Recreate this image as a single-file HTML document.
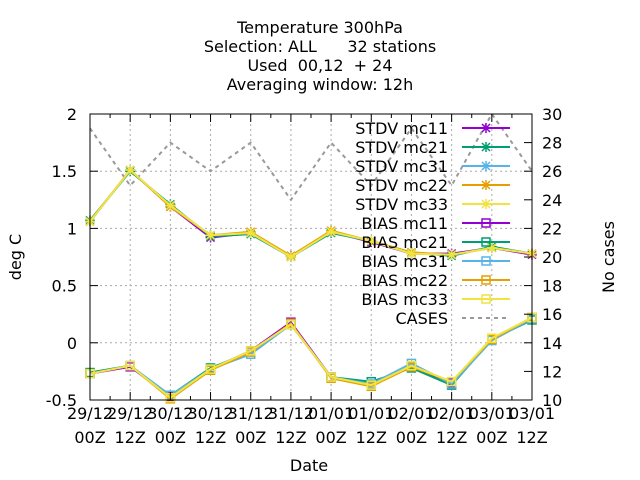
<!DOCTYPE html>
<html><head><meta charset="utf-8"><style>
body{margin:0;background:#fff}
svg{display:block;font-family:"DejaVu Sans","Liberation Sans",sans-serif}
</style></head><body>
<svg id="c" width="640" height="480" xmlns="http://www.w3.org/2000/svg">
<g font-size="16" text-anchor="middle" fill="#000">
<text x="320" y="33">Temperature 300hPa</text>
<text x="320" y="52" xml:space="preserve">Selection: ALL      32 stations</text>
<text x="320" y="71" xml:space="preserve">Used  00,12  + 24</text>
<text x="320" y="90">Averaging window: 12h</text>
</g>
<text x="309" y="471" font-size="16" text-anchor="middle">Date</text>
<text transform="translate(21,257) rotate(-90)" font-size="16" text-anchor="middle">deg C</text>
<text transform="translate(614,257) rotate(-90)" font-size="16" text-anchor="middle">No cases</text>
<g id="grid"></g><g id="series"></g><g id="axes"></g><g id="legend"></g>
</svg>
<script>
const categories=["29/12|00Z","29/12|12Z","30/12|00Z","30/12|12Z","31/12|00Z","31/12|12Z","01/01|00Z","01/01|12Z","02/01|00Z","02/01|12Z","03/01|00Z","03/01|12Z"];
const yTicks=[-0.5,0,0.5,1,1.5,2];
const yTickLabels=["-0.5","0","0.5","1","1.5","2"];
const y2Ticks=[10,12,14,16,18,20,22,24,26,28,30];
const seriesNames=["mc11","mc21","mc31","mc22","mc33"];
const colors=["#9400d3","#009e73","#56b4e9","#e69f00","#f0e442"];
const stdvMc11=[1.06,1.51,1.19,0.92,0.96,0.76,0.97,0.88,0.78,0.78,0.83,0.77];
const stdvMc21=[1.07,1.50,1.21,0.93,0.95,0.75,0.96,0.89,0.79,0.76,0.84,0.78];
const stdvMc31=[1.06,1.51,1.20,0.94,0.96,0.75,0.97,0.89,0.78,0.77,0.83,0.78];
const stdvMc22=[1.06,1.51,1.19,0.94,0.97,0.76,0.98,0.89,0.79,0.77,0.83,0.78];
const stdvMc33=[1.06,1.51,1.20,0.94,0.96,0.75,0.97,0.89,0.78,0.77,0.83,0.78];
const biasMc11=[-0.27,-0.21,-0.47,-0.23,-0.07,0.18,-0.30,-0.37,-0.21,-0.35,0.03,0.22];
const biasMc21=[-0.26,-0.20,-0.46,-0.22,-0.08,0.16,-0.30,-0.34,-0.22,-0.37,0.03,0.20];
const biasMc31=[-0.27,-0.20,-0.46,-0.23,-0.10,0.16,-0.30,-0.36,-0.18,-0.36,0.02,0.21];
const biasMc22=[-0.27,-0.20,-0.49,-0.24,-0.08,0.17,-0.31,-0.38,-0.21,-0.34,0.03,0.22];
const biasMc33=[-0.27,-0.20,-0.48,-0.23,-0.07,0.16,-0.30,-0.37,-0.20,-0.34,0.04,0.22];
const cases=[29,25,28,26,28,24,28,25,29,25,30,26];
const stdv=[stdvMc11,stdvMc21,stdvMc31,stdvMc22,stdvMc33];
const bias=[biasMc11,biasMc21,biasMc31,biasMc22,biasMc33];

const NS="http://www.w3.org/2000/svg";
const L=90,R=532,T=114,B=400;
const xS=i=>L+i*(R-L)/(categories.length-1);
const yS=v=>B-(v+0.5)/2.5*(B-T);
const y2S=v=>B-(v-10)/20*(B-T);
function mk(tag,attrs,parent){const e=document.createElementNS(NS,tag);for(const k in attrs)e.setAttribute(k,attrs[k]);parent.appendChild(e);return e;}
const grid=document.getElementById('grid'),axes=document.getElementById('axes'),ser=document.getElementById('series'),leg=document.getElementById('legend');
yTicks.forEach((t,i)=>{const y=yS(t);
 if(i>0&&i<yTicks.length-1){const g=mk('line',{x1:L,x2:R,y1:y,y2:y,stroke:'#aaa','stroke-dasharray':'2,3','stroke-width':1},grid);
 }
 mk('line',{x1:L,x2:L+8,y1:y,y2:y,stroke:'#000'},axes);
 const lb=mk('text',{x:L-13,y:y+6,'font-size':16,'text-anchor':'end'},axes);lb.textContent=yTickLabels[i];
 });
y2Ticks.forEach(t=>{const y=y2S(t);
 mk('line',{x1:R-8,x2:R,y1:y,y2:y,stroke:'#000'},axes);
 const lb=mk('text',{x:R+10,y:y+6,'font-size':16},axes);lb.textContent=t;
 });
categories.forEach((c,i)=>{const x=xS(i);
 if(i>0&&i<categories.length-1){const g=mk('line',{x1:x,x2:x,y1:T,y2:B,stroke:'#aaa','stroke-dasharray':'2,3'},grid);
 }
 mk('line',{x1:x,x2:x,y1:B,y2:B-8,stroke:'#000'},axes);mk('line',{x1:x,x2:x,y1:T,y2:T+8,stroke:'#000'},axes);
 if(i<categories.length-1){const xm=x+(R-L)/(categories.length-1)/2;mk('line',{x1:xm,x2:xm,y1:B,y2:B-4,stroke:'#000'},axes);mk('line',{x1:xm,x2:xm,y1:T,y2:T+4,stroke:'#000'},axes);}
 const p=c.split('|');
 const lb=mk('text',{x:x,y:B+19,'font-size':16,'text-anchor':'middle'},axes);lb.textContent=p[0];
 
 const lb2=mk('text',{x:x,y:B+43,'font-size':16,'text-anchor':'middle'},axes);lb2.textContent=p[1];
 });
const frame=mk('rect',{x:L,y:T,width:R-L,height:B-T,fill:'none',stroke:'#000'},axes);

function star(x,y,c,p){mk('path',{d:`M${x-4},${y-4}L${x+4},${y+4}M${x-4},${y+4}L${x+4},${y-4}M${x-5},${y}H${x+5}M${x},${y-5}V${y+5}`,stroke:c,'stroke-width':1.5},p);}
function sq(x,y,c,p){mk('rect',{x:x-4,y:y-4,width:8,height:8,fill:'none',stroke:c,'stroke-width':1.5},p);}
const cp=mk('polyline',{points:cases.map((v,i)=>xS(i)+','+y2S(v)).join(' '),fill:'none',stroke:'#999','stroke-width':2,'stroke-dasharray':'4,4'},ser);

function draw(arr,c,mfn,name){const g=mk('g',{},ser);
 
 mk('polyline',{points:arr.map((v,i)=>xS(i)+','+yS(v)).join(' '),fill:'none',stroke:c,'stroke-width':2},g);
 arr.forEach((v,i)=>mfn(xS(i),yS(v),c,g));}
stdv.forEach((a,k)=>draw(a,colors[k],star,'stdv-'+seriesNames[k]+'-series'));
bias.forEach((a,k)=>draw(a,colors[k],sq,'bias-'+seriesNames[k]+'-series'));
const labels=[],marks=[];
seriesNames.forEach((n,k)=>{labels.push('STDV '+n);marks.push([colors[k],star]);});
seriesNames.forEach((n,k)=>{labels.push('BIAS '+n);marks.push([colors[k],sq]);});
labels.push('CASES');marks.push(['#999',null]);
labels.forEach((t,i)=>{const y=128+i*19;const g=mk('g',{},leg);
 
 const tx=mk('text',{x:448,y:y+6,'font-size':16,'text-anchor':'end'},g);tx.textContent=t;
 if(marks[i][1]){mk('line',{x1:462,x2:510,y1:y,y2:y,stroke:marks[i][0],'stroke-width':2},g);marks[i][1](486,y,marks[i][0],g);}
 else mk('line',{x1:462,x2:506,y1:y,y2:y,stroke:'#999','stroke-width':2,'stroke-dasharray':'4,4'},g);});
</script>
</body></html>
